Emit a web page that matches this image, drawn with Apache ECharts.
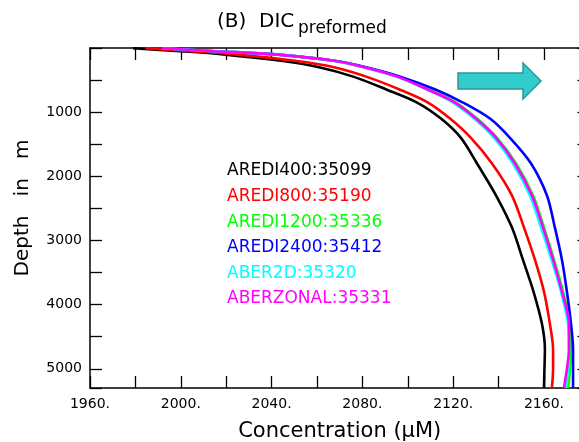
<!DOCTYPE html>
<html><head><meta charset="utf-8">
<script src="https://cdn.jsdelivr.net/npm/echarts@6/dist/echarts.min.js"></script>
<style>html,body{margin:0;padding:0;background:#fff;overflow:hidden;width:579px;height:442px}#c{width:590px;height:442px}</style>
</head><body><div id="c"></div>
<script>
const depths = [5, 50, 100, 200, 300, 450, 650, 850, 1100, 1400, 1800, 2300, 2800, 3300, 3800, 4300, 4700, 5000, 5300];
const aredi400  = [1978.9, 1999.6, 2018.6, 2044.1, 2060.9, 2076.3, 2090.8, 2104.1, 2114.6, 2123.4, 2130.5, 2138.9, 2145.9, 2150.7, 2155.4, 2159.1, 2160.4, 2160.2, 2160.0];
const aredi800  = [1984.5, 2004.9, 2023.9, 2050.3, 2067.5, 2082.0, 2096.6, 2108.9, 2118.6, 2127.8, 2137.1, 2145.9, 2151.2, 2156.0, 2160.0, 2162.6, 2164.0, 2164.0, 2163.5];
const aredi1200 = [1991.7, 2015.1, 2041.5, 2067.9, 2081.1, 2096.1, 2109.3, 2121.2, 2130.5, 2139.3, 2147.7, 2155.2, 2160.0, 2164.4, 2168.4, 2171.5, 2171.9, 2171.5, 2170.6];
const aredi2400 = [1991.7, 2015.0, 2041.5, 2067.5, 2081.6, 2097.0, 2112.4, 2124.3, 2136.2, 2145.0, 2154.3, 2161.3, 2164.8, 2167.9, 2170.1, 2171.9, 2172.8, 2172.8, 2172.8];
const aber2d    = [1991.7, 2015.1, 2041.5, 2067.0, 2080.3, 2095.2, 2108.5, 2119.9, 2129.2, 2138.0, 2146.3, 2153.8, 2158.7, 2163.3, 2167.5, 2170.6, 2171.0, 2170.6, 2169.7];
const aberzonal = [1991.7, 2015.0, 2041.5, 2067.5, 2080.7, 2095.7, 2108.9, 2120.8, 2130.0, 2138.9, 2147.2, 2154.7, 2159.6, 2164.0, 2167.9, 2171.0, 2171.0, 2170.1, 2168.8];
const seriesNames = ['AREDI400:35099', 'AREDI800:35190', 'AREDI1200:35336', 'AREDI2400:35412', 'ABER2D:35320', 'ABERZONAL:35331'];
const seriesValues = [aredi400, aredi800, aredi1200, aredi2400, aber2d, aberzonal];
const colors = ['#000000', '#ff0000', '#00ff00', '#0000ff', '#00ffff', '#ff00ff'];
const xTickLabels = ['1960.', '2000.', '2040.', '2080.', '2120.', '2160.'];
const yTickLabels = ['1000', '2000', '3000', '4000', '5000'];

const chart = echarts.init(document.getElementById('c'), null, {renderer: 'canvas', width: 590, height: 442});
const FONT = 'DejaVu Sans';
const axisLine = {show: true, onZero: false, lineStyle: {color: '#000', width: 1.5}};
const xCommon = {type: 'value', min: 1960, max: 2180, interval: 20, splitLine: {show: false},
  axisLine: axisLine, axisTick: {inside: true, length: 12, lineStyle: {color: '#000', width: 1.3}}};
const yCommon = {type: 'value', min: 0, max: 5300, interval: 500, inverse: true, splitLine: {show: false},
  axisLine: axisLine, axisTick: {inside: true, length: 12, lineStyle: {color: '#000', width: 1.3}}};

chart.setOption({
  animation: false,
  backgroundColor: '#fff',
  grid: {left: 90, top: 48, width: 499.4, height: 340, containLabel: false, outerBoundsMode: 'none'},
  xAxis: [
    Object.assign({}, xCommon, {position: 'bottom',
      name: 'Concentration (\u00b5M)', nameLocation: 'middle', nameGap: 33,
      nameTextStyle: {fontFamily: FONT, fontSize: 21, color: '#000'},
      axisLabel: {margin: 9, fontFamily: FONT, fontSize: 14, color: '#000',
        formatter: v => { const s = v.toFixed(0) + '.'; return xTickLabels.includes(s) ? s : ''; }}}),
    Object.assign({}, xCommon, {position: 'top', axisLabel: {show: false}})
  ],
  yAxis: [
    Object.assign({}, yCommon, {position: 'left',
      name: 'Depth   in   m', nameLocation: 'middle', nameGap: 57, nameRotate: 90,
      nameTextStyle: {fontFamily: FONT, fontSize: 20, color: '#000', padding: [0, 0, 0, 20]},
      axisLabel: {margin: 8, fontFamily: FONT, fontSize: 14, color: '#000',
        formatter: v => { const s = String(v); return yTickLabels.includes(s) ? s : ''; }}}),
    Object.assign({}, yCommon, {position: 'right', axisLabel: {show: false}})
  ],
  legend: {
    orient: 'vertical', left: 217, top: 156, itemWidth: 0, itemHeight: 20, itemGap: 5.6,
    icon: 'none', selectedMode: false,
    textStyle: {fontFamily: FONT, fontSize: 17, lineHeight: 20},
    data: seriesNames.map((n, i) => ({name: n, textStyle: {color: colors[i]}}))
  },
  graphic: [
    {type: 'text', left: 217, top: 12, style: {text: '(B)  DIC', fontFamily: FONT, fontSize: 20, fill: '#000'}},
    {type: 'text', left: 298, top: 20, style: {text: 'preformed', fontFamily: FONT, fontSize: 17, fill: '#000'}},
    {type: 'polygon', shape: {points: [[458, 73], [523, 73], [523, 63], [541, 81], [523, 99], [523, 89], [458, 89]]},
      style: {fill: '#33cccc', stroke: '#2a9896', lineWidth: 1.5}}
  ],
  series: seriesNames.map((n, i) => ({
    name: n, type: 'line', xAxisIndex: 0, yAxisIndex: 0, showSymbol: false, smooth: 0.3,
    lineStyle: {color: colors[i], width: 2.6}, itemStyle: {color: colors[i]},
    data: depths.map((d, k) => [seriesValues[i][k], d])
  }))
});
</script></body></html>
